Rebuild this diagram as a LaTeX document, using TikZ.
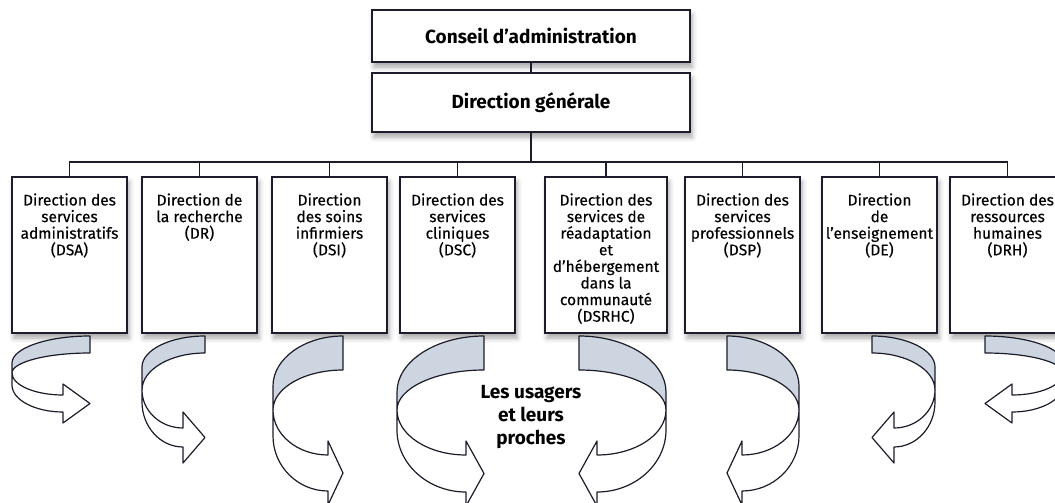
\documentclass[tikz,border=0pt]{standalone}
\usepackage{fontspec}
\setmainfont{Fira Sans}
\newfontfamily\dirfont[FakeBold=0.3]{Fira Sans}
\usetikzlibrary{positioning, shadows.blur}

\definecolor{inkline}{RGB}{28,28,42}
\definecolor{ribbonblue}{RGB}{205,213,225}

% curved ribbon arrow: W, h1, a, c, b, L, s1, s2, e
\newcommand{\ribbon}[9]{%
  \filldraw[ribside] (0,0) .. controls (-0.55*#1,0) and (-#1,{0.45*#3}) .. (-#1,#3)
    -- (-#1,#4) .. controls (-#1,{#4-0.55*(#4-#2)}) and (-0.55*#1,#2) .. (0,#2) -- cycle;
  \filldraw[ribfront] (-#1,#4) -- (-#1,#5)
    .. controls (-#1,{#5+0.55*(#8-#5)}) and ({-#6-0.55*(#1-#6)},#8) .. (-#6,#8)
    -- (-#6,{#8+#9}) -- (0,{(#7+#8)/2}) -- (-#6,{#7-#9}) -- (-#6,#7)
    .. controls ({-#6-0.55*(#1-#6)},#7) and (-#1,{#4+0.55*(#7-#4)}) .. (-#1,#4) -- cycle;
}

\begin{document}
\begin{tikzpicture}[
    x=1pt, y=-1pt,
    box/.style={draw=inkline, line width=1.6pt, fill=white,
      blur shadow={shadow xshift=2pt, shadow yshift=-5pt, shadow blur radius=5pt, shadow opacity=35}},
    topbox/.style={box, minimum width=318pt, font=\bfseries\fontsize{19}{22}\selectfont},
    dirbox/.style={box, minimum width=115pt, minimum height=156pt},
    dirtext/.style={align=center, inner sep=0pt, font=\dirfont\fontsize{15.5}{16.6}\selectfont},
    link/.style={draw=inkline, line width=1.4pt},
    ribside/.style={fill=ribbonblue, draw=inkline, line width=1.2pt, line join=round},
    ribfront/.style={fill=white, draw=inkline, line width=1.2pt, line join=round}
]
\clip (0,0) rectangle (1055,503);

\node (ca) [topbox, minimum height=52pt] at (531,36) {Conseil d’administration};
\node (dg) [topbox, minimum height=59pt] at (531,102.5) {Direction générale};
\coordinate (bus) at (531,162);

% directions
\node (dsa) [dirbox] at (69.5,255) {};
\node (dr) [dirbox] at (199.5,255) {};
\node (dsi) [dirbox] at (329.5,255) {};
\node (dsc) [dirbox] at (457.5,255) {};
\node (dsrhc) [dirbox, minimum width=122pt] at (606,255) {};
\node (dsp) [dirbox] at (742.5,255) {};
\node (de) [dirbox] at (879.5,255) {};
\node (drh) [dirbox] at (1007.5,255) {};

\draw[link] (ca) -- (dg);
\draw[link] (dg) -- (bus);
\foreach \d in {dsa,dr,dsi,dsc,dsrhc,dsp,de,drh}
  \draw[link] (\d.north) |- (bus);

\node (dsa-t) [dirtext, below=17pt of dsa.north] {Direction des\\services\\administratifs\\(DSA)};
\node (dr-t) [dirtext, below=17pt of dr.north] {Direction de\\la recherche\\(DR)};
\node (dsi-t) [dirtext, below=17pt of dsi.north] {Direction\\des soins\\infirmiers\\(DSI)};
\node (dsc-t) [dirtext, below=17pt of dsc.north] {Direction des\\services\\cliniques\\(DSC)};
\node (dsrhc-t) [dirtext, below=17pt of dsrhc.north] {Direction des\\services de\\réadaptation\\et\\d’hébergement\\dans la\\communauté\\(DSRHC)};
\node (dsp-t) [dirtext, below=17pt of dsp.north] {Direction des\\services\\professionnels\\(DSP)};
\node (de-t) [dirtext, below=17pt of de.north] {Direction\\de\\l’enseignement\\(DE)};
\node (drh-t) [dirtext, below=17pt of drh.north] {Direction des\\ressources\\humaines\\(DRH)};

% ribbons
\begin{scope}[shift={(90,336)}] \ribbon{78}{17}{27}{37}{49}{27}{59}{76}{11} \end{scope}
\begin{scope}[shift={(205,336)}] \ribbon{63}{17}{31}{54}{66}{22}{92}{111}{16} \end{scope}
\begin{scope}[shift={(343,336)}] \ribbon{70}{34}{50}{74}{100}{15}{119}{155}{14} \end{scope}
\begin{scope}[shift={(484,336)}] \ribbon{87}{34}{56}{74}{94}{18}{119}{156}{14} \end{scope}
\begin{scope}[shift={(579,336)}, xscale=-1] \ribbon{87}{34}{56}{74}{94}{18}{119}{156}{14} \end{scope}
\begin{scope}[shift={(727,336)}, xscale=-1] \ribbon{72}{34}{50}{74}{100}{15}{119}{155}{14} \end{scope}
\begin{scope}[shift={(872,336)}, xscale=-1] \ribbon{63}{17}{31}{54}{66}{22}{92}{111}{16} \end{scope}
\begin{scope}[shift={(985,336)}, xscale=-1] \ribbon{78}{17}{27}{37}{49}{27}{59}{76}{11} \end{scope}

\node (usagers) [align=center, font=\bfseries\fontsize{19}{23}\selectfont] at (531,417) {Les usagers\\et leurs\\proches};
\end{tikzpicture}
\end{document}
